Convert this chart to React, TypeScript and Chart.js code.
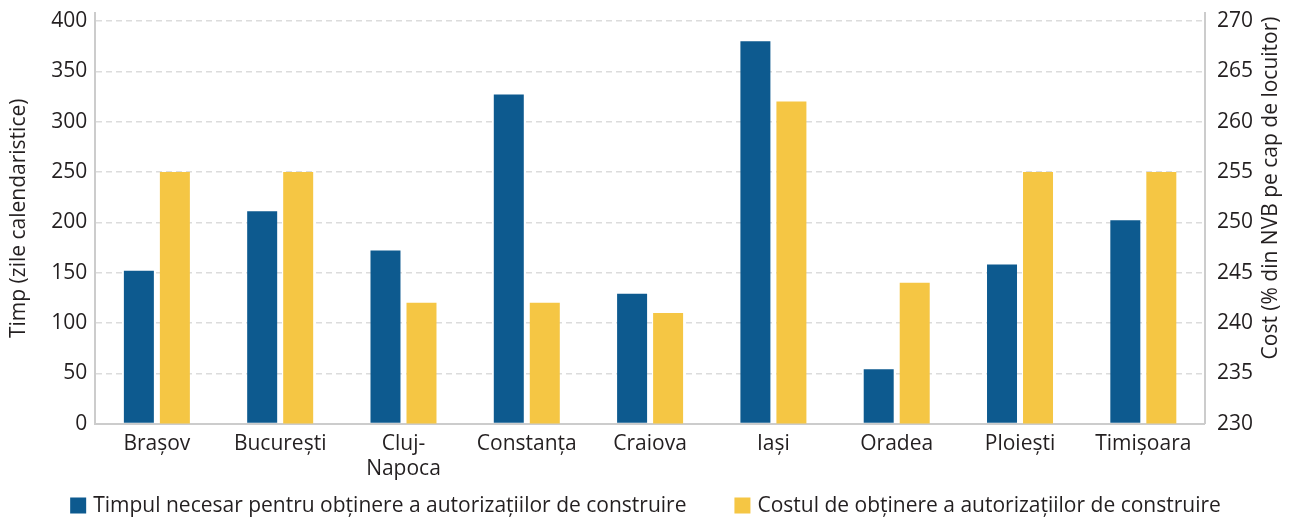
import React, { useEffect, useRef } from "react";
import { Chart, registerables } from "chart.js";

Chart.register(...registerables);

const categories: (string | string[])[] = [
  "Brașov",
  "București",
  ["Cluj-", "Napoca"],
  "Constanța",
  "Craiova",
  "Iași",
  "Oradea",
  "Ploiești",
  "Timișoara",
];
const timeDays = [152, 211, 172, 327, 129, 380, 54, 158, 202];
const costPct = [255, 255, 242, 242, 241, 262, 244, 255, 255];
const seriesLabels = [
  "Timpul necesar pentru obținere a autorizațiilor de construire",
  "Costul de obținere a autorizațiilor de construire",
];
const seriesColors = ["#0D5A8F", "#F5C644"];
const leftTitle = "Timp (zile calendaristice)";
const rightTitle = "Cost (% din NVB pe cap de locuitor)";

const FONT = "'Open Sans', 'Noto Sans', sans-serif";
const FS = 21;
const TEXT = "#231F20";
const AXIS = "#CCCCCC";
const GRID = "#DCDCDC";

// Draws the bottom legend and the right axis title (which reads bottom-to-top)
const extrasPlugin = {
  id: "extras",
  afterDraw(chart: any) {
    const ctx = chart.ctx as CanvasRenderingContext2D;
    const W = chart.width;
    ctx.save();
    ctx.font = `${FS}px ${FONT}`;
    ctx.fillStyle = TEXT;
    ctx.textBaseline = "middle";
    // legend
    const box = 16;
    const gapText = 7;
    const gapItems = 48;
    const widths = seriesLabels.map((t) => ctx.measureText(t).width);
    const total = widths.reduce((a, w) => a + box + gapText + w, 0) + gapItems * (widths.length - 1);
    let x = W / 2 - total / 2;
    const cy = 505.5;
    seriesLabels.forEach((t, i) => {
      ctx.fillStyle = seriesColors[i];
      ctx.fillRect(x, cy - box / 2, box, box);
      ctx.fillStyle = TEXT;
      ctx.textAlign = "left";
      ctx.fillText(t, x + box + gapText, cy + 1);
      x += box + gapText + widths[i] + gapItems;
    });
    // right axis title
    ctx.translate(1271, 188);
    ctx.rotate(-Math.PI / 2);
    ctx.textAlign = "center";
    ctx.fillText(rightTitle, 0, 0);
    ctx.restore();
  },
};

const noVPad = (s: any) => {
  s.paddingTop = 0;
  s.paddingBottom = 0;
};

export default function App() {
  const ref = useRef<HTMLCanvasElement | null>(null);
  useEffect(() => {
    if (!ref.current) return;
    const chart = new Chart(ref.current, {
      type: "bar",
      data: {
        labels: categories,
        datasets: [
          {
            label: seriesLabels[0],
            data: timeDays,
            backgroundColor: seriesColors[0],
            yAxisID: "y",
            categoryPercentage: 0.584,
            barPercentage: 0.833,
          },
          {
            label: seriesLabels[1],
            data: costPct,
            backgroundColor: seriesColors[1],
            yAxisID: "y1",
            categoryPercentage: 0.584,
            barPercentage: 0.833,
          },
        ],
      },
      options: {
        animation: false,
        responsive: true,
        maintainAspectRatio: false,
        layout: { padding: { top: 13, left: 0, right: 26, bottom: 36 } },
        plugins: {
          tooltip: { enabled: false },
          legend: { display: false },
        },
        scales: {
          x: {
            grid: { display: false },
            border: { display: true, color: AXIS, width: 2 },
            ticks: {
              font: { family: FONT, size: FS },
              color: TEXT,
              maxRotation: 0,
              autoSkip: false,
              padding: 0,
            },
          },
          y: {
            position: "left",
            min: 0,
            max: 408,
            afterFit: noVPad,
            ticks: {
              stepSize: 50,
              includeBounds: false,
              font: { family: FONT, size: FS },
              color: TEXT,
              padding: 8,
            },
            grid: {
              color: GRID,
              lineWidth: 1.5,
              drawTicks: false,
            },
            border: { color: AXIS, width: 2, dash: [6, 4] },
            title: {
              display: true,
              text: leftTitle,
              font: { family: FONT, size: FS },
              color: TEXT,
              padding: { top: 6, bottom: 12 },
            },
          },
          y1: {
            position: "right",
            min: 230,
            max: 270.8,
            afterFit: noVPad,
            ticks: {
              stepSize: 5,
              includeBounds: false,
              font: { family: FONT, size: FS },
              color: TEXT,
              padding: 12,
            },
            grid: { display: false, drawTicks: false },
            border: { color: AXIS, width: 2 },
          },
        },
      },
      plugins: [extrasPlugin],
    });
    return () => chart.destroy();
  }, []);
  return (
    <div style={{ position: "fixed", left: 0, top: 0, width: 1291, height: 518, fontFamily: FONT }}>
      <canvas ref={ref} />
    </div>
  );
}
